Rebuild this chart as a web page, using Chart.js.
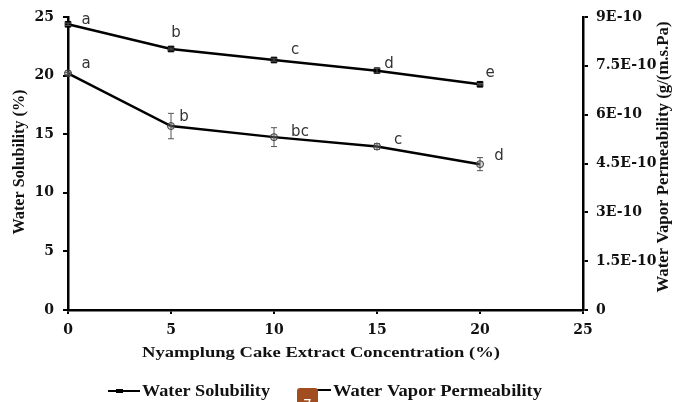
<!DOCTYPE html>
<html><head><meta charset="utf-8">
<script src="https://cdn.jsdelivr.net/npm/chart.js@4.4.1/dist/chart.umd.min.js"></script>
<style>html,body{margin:0;padding:0;background:#fff}#wrap{width:681px;height:402px;position:relative}</style>
</head><body><div id="wrap"><canvas id="c"></canvas></div>
<script>
const concentration=[0,5,10,15,20];
const waterSolubility=[24.38,22.27,21.33,20.42,19.26];
const waterSolubilityErr=[0.1,0.08,0.1,0.2,0.06];
const wvp=[7.27e-10,5.65e-10,5.31e-10,5.02e-10,4.48e-10];
const wvpErr=[0.03e-10,0.39e-10,0.29e-10,0.09e-10,0.2e-10];
const wsLetters=['a','b','c','d','e'];
const wvpLetters=['a','b','bc','c','d'];
const xTicks=[0,5,10,15,20,25];
const yTicks=[0,5,10,15,20,25];
const y2Ticks=[0,1.5e-10,3e-10,4.5e-10,6e-10,7.5e-10,9e-10];
const y2TickLabels=['0','1.5E-10','3E-10','4.5E-10','6E-10','7.5E-10','9E-10'];
const xTitle='Nyamplung Cake Extract Concentration (%)';
const yTitle='Water Solubility (%)';
const y2Title='Water Vapor Permeability (g/(m.s.Pa)';
const seriesNames=['Water Solubility','Water Vapor Permeability'];

const tickFont={family:'DejaVu Serif',weight:'bold',size:14};
const axisCommon={
  grid:{drawOnChartArea:false,color:'#000',lineWidth:2,tickLength:5},
  border:{color:'#000',width:2.5},
  ticks:{font:tickFont,color:'#111',autoSkip:false,maxRotation:0}
};

function sText(ctx,txt,x,y,w,font,rot,align){
  ctx.save();ctx.translate(x,y);if(rot)ctx.rotate(rot);
  ctx.font=font;const m=ctx.measureText(txt).width;
  ctx.scale(w/m,1);ctx.textAlign=align||'center';ctx.textBaseline='alphabetic';
  ctx.fillStyle='#111';ctx.fillText(txt,0,0);ctx.restore();
}

const letterOffsets=[
  [[18,-4],[5,-16],[21,-10],[12,-7],[10,-11]],
  [[18,-9],[13,-9],[26,-5],[21,-6],[19,-8]]
];
const letterSets=[wsLetters,wvpLetters];
const errSets=[waterSolubilityErr,wvpErr];

const extras={
  id:'extras',
  afterDatasetsDraw(chart){
    const ctx=chart.ctx;
    chart.data.datasets.forEach((ds,di)=>{
      const ys=chart.scales[ds.yAxisID], xs=chart.scales.x, errs=errSets[di];
      ctx.save();ctx.strokeStyle='#555';ctx.lineWidth=1;
      ds.data.forEach((p,i)=>{
        const px=xs.getPixelForValue(p.x);
        const t=ys.getPixelForValue(p.y+errs[i]), b=ys.getPixelForValue(p.y-errs[i]);
        ctx.beginPath();ctx.moveTo(px,t);ctx.lineTo(px,b);
        ctx.moveTo(px-3,t);ctx.lineTo(px+3,t);ctx.moveTo(px-3,b);ctx.lineTo(px+3,b);ctx.stroke();
      });
      ctx.restore();
      ctx.save();ctx.font='15px "DejaVu Sans"';ctx.fillStyle='#333';ctx.textAlign='center';ctx.textBaseline='middle';
      ds.data.forEach((p,i)=>{
        const px=xs.getPixelForValue(p.x), py=ys.getPixelForValue(p.y);
        const o=letterOffsets[di][i];
        ctx.fillText(letterSets[di][i],px+o[0],py+o[1]);
      });
      ctx.restore();
    });
  },
  afterDraw(chart){
    const ctx=chart.ctx;
    sText(ctx,yTitle,24,162,145,'bold 16px "Liberation Serif"',-Math.PI/2);
    sText(ctx,y2Title,668,157,271,'bold 16px "Liberation Serif"',-Math.PI/2);
    sText(ctx,xTitle,321,357,358,'bold 15px "Liberation Serif"',0);
    ctx.save();ctx.strokeStyle='#000';ctx.lineWidth=2;
    ctx.beginPath();ctx.moveTo(108,391);ctx.lineTo(140,391);ctx.stroke();
    ctx.fillStyle='#000';ctx.fillRect(116,389,7,4);
    ctx.beginPath();ctx.moveTo(313,390);ctx.lineTo(331,390);ctx.stroke();
    ctx.restore();
    sText(ctx,seriesNames[0],142,396,128,'bold 16px "Liberation Serif"',0,'left');
    sText(ctx,seriesNames[1],333,396,209,'bold 16px "Liberation Serif"',0,'left');
    ctx.save();ctx.fillStyle='#a24d20';
    ctx.beginPath();ctx.roundRect(297,388,21,20,3);ctx.fill();
    ctx.fillStyle='#fff';ctx.font='14px "DejaVu Sans"';ctx.textAlign='center';ctx.textBaseline='alphabetic';
    ctx.fillText('7',307.5,409);ctx.restore();
  }
};

new Chart(document.getElementById('c'),{
  type:'line',
  data:{datasets:[
    {label:seriesNames[0],yAxisID:'y',data:concentration.map((x,i)=>({x,y:waterSolubility[i]})),
     borderColor:'#000',borderWidth:2.5,pointStyle:'rect',pointRadius:4,pointBackgroundColor:'#000',pointBorderColor:'#000',pointBorderWidth:1,tension:0,clip:false},
    {label:seriesNames[1],yAxisID:'y2',data:concentration.map((x,i)=>({x,y:wvp[i]})),
     borderColor:'#000',borderWidth:2.5,pointStyle:'circle',pointRadius:3.5,pointBackgroundColor:'rgba(150,150,150,0.35)',pointBorderColor:'#333',pointBorderWidth:1,tension:0,clip:false}
  ]},
  options:{
    responsive:true,maintainAspectRatio:false,animation:false,devicePixelRatio:1,
    layout:{padding:{top:17,left:0,right:0,bottom:0}},
    plugins:{legend:{display:false},tooltip:{enabled:false}},
    scales:{
      x:{type:'linear',min:0,max:25,position:'bottom',...axisCommon,
         grid:{...axisCommon.grid,tickLength:4},
         ticks:{...axisCommon.ticks,padding:8},
         afterBuildTicks:s=>{s.ticks=xTicks.map(v=>({value:v}));},
         afterFit:s=>{s.height=92;s.paddingLeft=0;s.paddingRight=0;}},
      y:{type:'linear',min:0,max:25,position:'left',...axisCommon,
         ticks:{...axisCommon.ticks,padding:9},
         afterBuildTicks:s=>{s.ticks=yTicks.map(v=>({value:v}));},
         afterFit:s=>{s.width=68;s.paddingTop=0;s.paddingBottom=0;}},
      y2:{type:'linear',min:0,max:9e-10,position:'right',...axisCommon,
         ticks:{...axisCommon.ticks,padding:8,callback:(v,i)=>y2TickLabels[i]},
         afterBuildTicks:s=>{s.ticks=y2Ticks.map(v=>({value:v}));},
         afterFit:s=>{s.width=98;s.paddingTop=0;s.paddingBottom=0;}}
    }
  },
  plugins:[extras]
});
</script></body></html>
